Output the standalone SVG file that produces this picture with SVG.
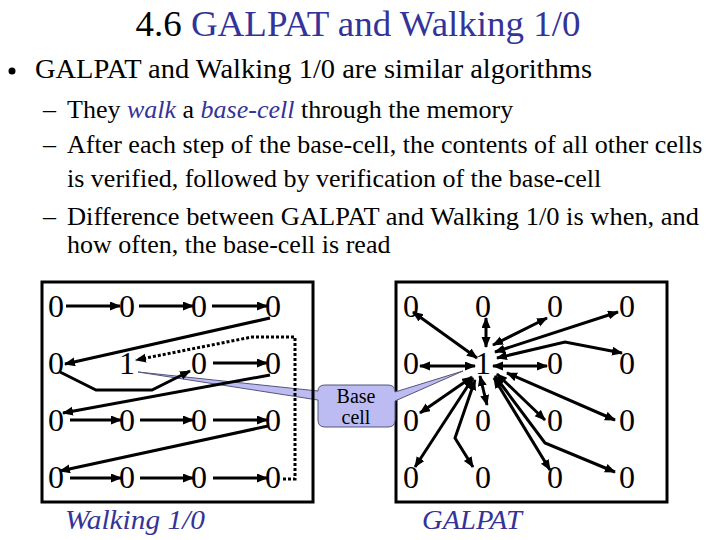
<svg xmlns="http://www.w3.org/2000/svg" width="720" height="540" viewBox="0 0 720 540" font-family="'Liberation Serif', Tinos, 'Times New Roman', 'DejaVu Serif', serif">
<defs>
<style>
text{font-family:'Liberation Serif', Tinos, 'Times New Roman', 'DejaVu Serif', serif}
.t{fill:#000}
.b{fill:#333399}
.i{font-style:italic}
.cell{font-size:32px;text-anchor:middle;fill:#000}
.frame{fill:none;stroke:#000;stroke-width:3}
.c{fill:none;stroke:#000;stroke-width:3;marker-end:url(#ah)}
.d{marker-start:url(#ah)}
.dot{fill:none;stroke:#000;stroke-width:3;stroke-dasharray:3 2;marker-end:url(#ah)}
</style>
<marker id="ah" markerUnits="userSpaceOnUse" markerWidth="12" markerHeight="10" refX="10" refY="4.5" orient="auto-start-reverse" viewBox="0 0 12 10">
<path d="M0,0 L11,4.5 L0,9 z" fill="#000"/>
</marker>
</defs>
<rect width="720" height="540" fill="#fff"/>

<g id="title">
<text class="t" x="358" y="36" font-size="36" text-anchor="middle" textLength="445" lengthAdjust="spacingAndGlyphs">4.6 <tspan class="b">GALPAT and Walking 1/0</tspan></text>
</g>

<g id="bullets">
<circle cx="12" cy="71" r="3.5" fill="#000"/>
<text class="t" x="35" y="78" font-size="28" textLength="557" lengthAdjust="spacingAndGlyphs">GALPAT and Walking 1/0 are similar algorithms</text>
<text class="t" x="43" y="118" font-size="26">–</text>
<text class="t" x="67" y="118" font-size="26">They <tspan class="b i">walk</tspan> a <tspan class="b i">base-cell</tspan> through the memory</text>
<text class="t" x="43" y="153" font-size="26">–</text>
<text class="t" x="67" y="153" font-size="26">After each step of the base-cell, the contents of all other cells</text>
<text class="t" x="67" y="187" font-size="26">is verified, followed by verification of the base-cell</text>
<text class="t" x="43" y="225" font-size="26">–</text>
<text class="t" x="67" y="225" font-size="26" textLength="632" lengthAdjust="spacingAndGlyphs">Difference between GALPAT and Walking 1/0 is when, and</text>
<text class="t" x="67" y="253" font-size="26">how often, the base-cell is read</text>
</g>

<g id="galpat-frame"><rect class="frame" x="396" y="282" width="271" height="220"/></g>

<g id="base-cell">
<path d="M325,385 H388 Q395,385 395,392 L463,371 L395,401 V420 Q395,427 388,427 H325 Q318,427 318,420 V400 L138,372 L318,391 Q318,385 325,385 Z" fill="#bcbcf2" stroke="#55557a" stroke-width="1"/>
<text class="t" x="356" y="403" font-size="20" text-anchor="middle">Base</text>
<text class="t" x="356" y="424" font-size="20" text-anchor="middle">cell</text>
</g>

<g id="walking-frame"><rect class="frame" x="42" y="282" width="271" height="220"/></g>

<g id="connectors">
<line class="c" x1="66" y1="306" x2="120" y2="306"/>
<line class="c" x1="139" y1="306" x2="193" y2="306"/>
<line class="c" x1="212" y1="306" x2="267" y2="306"/>
<line class="c" x1="270" y1="318" x2="65" y2="364"/>
<polyline class="c" points="60,372 96,390 152,390 190,371"/>
<line class="c" x1="213" y1="363" x2="267" y2="363"/>
<line class="c" x1="270" y1="375" x2="63" y2="413"/>
<line class="c" x1="70" y1="420" x2="121" y2="420"/>
<line class="c" x1="140" y1="420" x2="193" y2="420"/>
<line class="c" x1="213" y1="420" x2="267" y2="420"/>
<line class="c" x1="268" y1="426" x2="60" y2="471"/>
<line class="c" x1="70" y1="478" x2="121" y2="478"/>
<line class="c" x1="140" y1="478" x2="193" y2="478"/>
<line class="c" x1="213" y1="478" x2="267" y2="478"/>
<path class="dot" d="M283,479 H295 V337 H252 L136,360"/>
<line class="c d" x1="477" y1="358" x2="413" y2="312"/>
<line class="c d" x1="486" y1="347" x2="486" y2="318"/>
<line class="c d" x1="493" y1="345" x2="547" y2="318"/>
<line class="c d" x1="495" y1="352" x2="618" y2="312"/>
<polyline class="c d" points="497,358 565,342 622,353"/>
<line class="c d" x1="493" y1="366" x2="547" y2="366"/>
<line class="c d" x1="475" y1="366" x2="420" y2="366"/>
<line class="c d" x1="507" y1="373" x2="615" y2="420"/>
<line class="c d" x1="497" y1="374" x2="545" y2="420"/>
<polyline class="c d" points="495,376 545,443 615,472"/>
<line class="c d" x1="494" y1="378" x2="550" y2="470"/>
<line class="c d" x1="480" y1="376" x2="487" y2="405"/>
<polyline class="c d" points="475,380 455,438 473,467"/>
<line class="c d" x1="473" y1="378" x2="415" y2="467"/>
<line class="c d" x1="472" y1="377" x2="420" y2="413"/>
</g>

<g id="walking-cells">
<g id="w11"><text class="cell" x="56" y="317">0</text></g>
<g id="w12"><text class="cell" x="127" y="317">0</text></g>
<g id="w13"><text class="cell" x="199" y="317">0</text></g>
<g id="w14"><text class="cell" x="273" y="317">0</text></g>
<g id="w21"><text class="cell" x="56" y="374">0</text></g>
<g id="w22"><text class="cell" x="127" y="374">1</text></g>
<g id="w23"><text class="cell" x="199" y="374">0</text></g>
<g id="w24"><text class="cell" x="273" y="374">0</text></g>
<g id="w31"><text class="cell" x="56" y="431">0</text></g>
<g id="w32"><text class="cell" x="127" y="431">0</text></g>
<g id="w33"><text class="cell" x="199" y="431">0</text></g>
<g id="w34"><text class="cell" x="273" y="431">0</text></g>
<g id="w41"><text class="cell" x="56" y="488">0</text></g>
<g id="w42"><text class="cell" x="127" y="488">0</text></g>
<g id="w43"><text class="cell" x="199" y="488">0</text></g>
<g id="w44"><text class="cell" x="273" y="488">0</text></g>
</g>

<g id="galpat-cells">
<g id="g11"><text class="cell" x="411" y="317">0</text></g>
<g id="g12"><text class="cell" x="483" y="317">0</text></g>
<g id="g13"><text class="cell" x="555" y="317">0</text></g>
<g id="g14"><text class="cell" x="627" y="317">0</text></g>
<g id="g21"><text class="cell" x="411" y="374">0</text></g>
<g id="g22"><text class="cell" x="483" y="374">1</text></g>
<g id="g23"><text class="cell" x="555" y="374">0</text></g>
<g id="g24"><text class="cell" x="627" y="374">0</text></g>
<g id="g31"><text class="cell" x="411" y="431">0</text></g>
<g id="g32"><text class="cell" x="483" y="431">0</text></g>
<g id="g33"><text class="cell" x="555" y="431">0</text></g>
<g id="g34"><text class="cell" x="627" y="431">0</text></g>
<g id="g41"><text class="cell" x="411" y="488">0</text></g>
<g id="g42"><text class="cell" x="483" y="488">0</text></g>
<g id="g43"><text class="cell" x="555" y="488">0</text></g>
<g id="g44"><text class="cell" x="627" y="488">0</text></g>
</g>

<g id="labels">
<text class="t b i" x="65" y="529" font-size="27" textLength="140" lengthAdjust="spacingAndGlyphs">Walking 1/0</text>
<text class="t b i" x="422" y="529" font-size="27" textLength="100" lengthAdjust="spacingAndGlyphs">GALPAT</text>
</g>
</svg>
